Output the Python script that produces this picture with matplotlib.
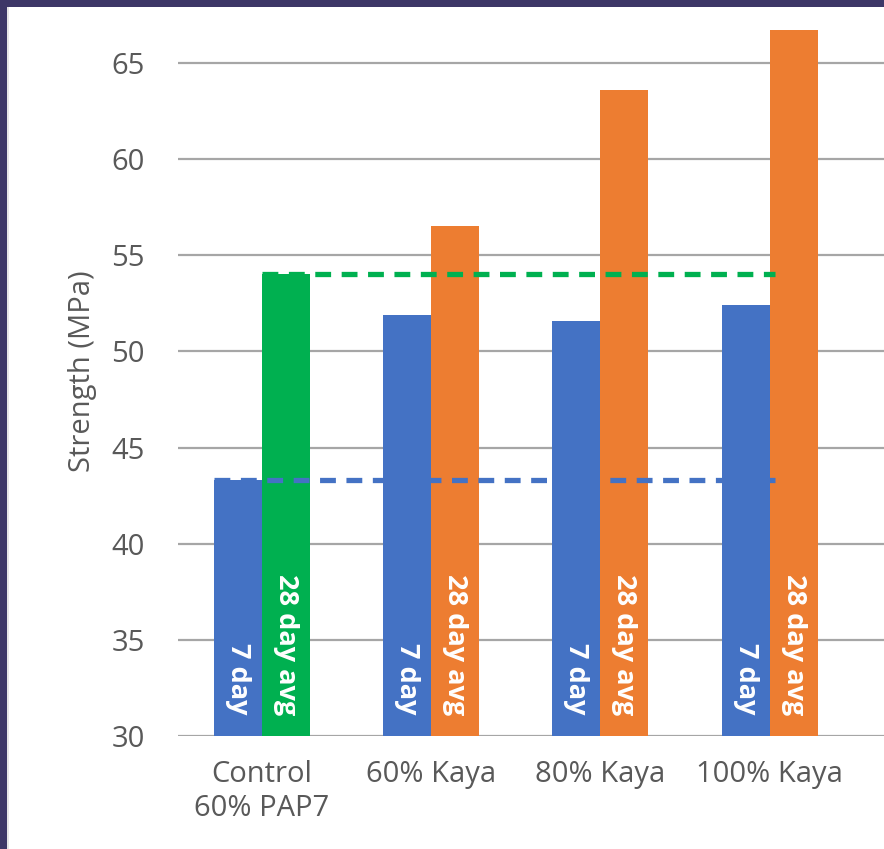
import matplotlib.pyplot as plt
import matplotlib.patches as patches
import numpy as np

# strength results (MPa)
groups = ['Control\n60% PAP7', '60% Kaya', '80% Kaya', '100% Kaya']
day7 = [43.3, 51.9, 51.6, 52.4]
day28 = [54.0, 56.5, 63.6, 66.7]
control_7 = day7[0]
control_28 = day28[0]

blue = '#4472c4'
orange = '#ed7d31'
green = '#00b050'
txt = '#595959'

plt.rcParams['font.family'] = ['Open Sans', 'DejaVu Sans']

fig = plt.figure(figsize=(8.84, 8.49), dpi=100, facecolor='#3d3767')
# white slide panel with thin light edge on the left
fig.patches.append(patches.Rectangle((7 / 884, 0), 1, 1 - 7 / 849, transform=fig.transFigure,
                                     facecolor='#e6e6e6', edgecolor='none', zorder=-2))
fig.patches.append(patches.Rectangle((9 / 884, 0), 1, 1 - 7 / 849, transform=fig.transFigure,
                                     facecolor='white', edgecolor='none', zorder=-1))

ax = fig.add_axes([178 / 884, 1 - 736 / 849, 1 - 178 / 884, 729 / 849])
ax.set_facecolor('none')

x = np.arange(len(groups))
w = 0.284
bar_cols = [green] + [orange] * 3
ax.bar(x - w / 2, day7, w, color=blue, zorder=2)
ax.bar(x + w / 2, day28, w, color=bar_cols, zorder=2)

for xi in x:
    ax.text(xi - w / 2, 31.1, '7 day', rotation=270, ha='center', va='bottom',
            color='white', fontsize=19.5, fontweight='bold', zorder=3)
    ax.text(xi + w / 2, 31.1, '28 day avg', rotation=270, ha='center', va='bottom',
            color='white', fontsize=19.5, fontweight='bold', zorder=3)

# control reference lines
ax.plot([x[0], 3.03], [control_28, control_28], color=green, lw=3.8,
        dashes=(3.0, 2.0), zorder=4)
ax.plot([x[0] - w, 3.03], [control_7, control_7], color=blue, lw=3.8,
        dashes=(3.0, 2.0), zorder=4)

ax.set_ylim(30, 30 + 729 / 19.23)
ax.set_xlim(-0.495, 3.675)
ax.set_yticks(range(30, 70, 5))
ax.set_xticks(x)
ax.set_xticklabels(groups, linespacing=1.25)
ax.yaxis.grid(True, color='#a6a6a6', lw=1.6, zorder=1)
ax.axhline(30, color='#d9d9d9', lw=1.8, zorder=1)
for s in ax.spines.values():
    s.set_visible(False)
ax.tick_params(axis='y', length=0, pad=24, labelsize=21, labelcolor=txt)
ax.tick_params(axis='x', length=0, pad=17, labelsize=21, labelcolor=txt)
ax.set_ylabel('Strength (MPa)', fontsize=21, color=txt, labelpad=10)

fig.savefig('out.png', dpi=100, facecolor=fig.get_facecolor())
